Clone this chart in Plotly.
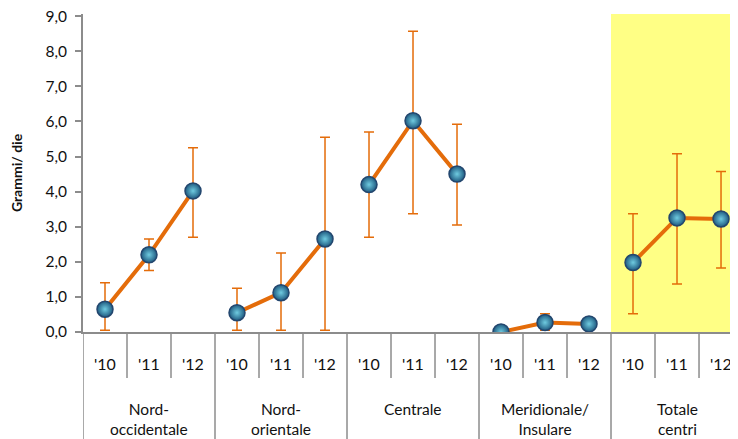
import plotly.graph_objects as go

groups = ["Nord-<br>occidentale", "Nord-<br>orientale", "Centrale", "Meridionale/<br>Insulare", "Totale<br>centri"]
years = ["'10", "'11", "'12"]

values = [0.65, 2.2, 4.02, 0.55, 1.12, 2.65, 4.2, 6.02, 4.5, 0.0, 0.27, 0.23, 1.98, 3.25, 3.22]
low    = [0.05, 1.75, 2.7, 0.05, 0.05, 0.05, 2.7, 3.37, 3.05, 0.0, 0.05, 0.1, 0.52, 1.37, 1.82]
high   = [1.4, 2.65, 5.25, 1.25, 2.25, 5.55, 5.7, 8.57, 5.92, 0.0, 0.52, 0.35, 3.37, 5.08, 4.57]

n_per = len(years)
ORANGE = "#E46C0A"
GRID = "#8C8C8C"
FONT = "Lato"

fig = go.Figure()

for g in range(len(groups)):
    idx = list(range(g * n_per, (g + 1) * n_per))
    fig.add_trace(go.Scatter(
        x=idx,
        y=[values[i] for i in idx],
        mode="lines+markers",
        line=dict(color=ORANGE, width=4),
        marker=dict(size=16, color="#1E5A80", symbol="circle",
                    gradient=dict(type="radial", color="#6FCBE0"),
                    line=dict(color="#23466E", width=1.5)),
        error_y=dict(type="data", symmetric=False,
                     array=[high[i] - values[i] for i in idx],
                     arrayminus=[values[i] - low[i] for i in idx],
                     color=ORANGE, thickness=1.5, width=5),
        showlegend=False,
        hoverinfo="skip",
    ))

n = len(values)
shapes = []
last = len(groups) - 1
YMAX = 9.06
shapes.append(dict(type="rect", xref="x", yref="y", x0=last * n_per - 0.5, x1=n - 0.5,
                   y0=0, y1=YMAX, fillcolor="#FFFF85", line=dict(width=0), layer="below"))

# page offset (body margin) is 8px; plot area spans page y 14..332
plot_h = 318.0
def py(pix):
    return (332 - pix) / plot_h

for k in range(n + 1):
    xk = k - 0.5
    if k % n_per == 0:
        shapes.append(dict(type="line", xref="x", yref="paper", x0=xk, x1=xk,
                           y0=0, y1=py(445), line=dict(color=GRID, width=1.5)))
    else:
        shapes.append(dict(type="line", xref="x", yref="paper", x0=xk, x1=xk,
                           y0=0, y1=py(378), line=dict(color=GRID, width=1.5)))

annotations = []
for i in range(n):
    annotations.append(dict(x=i, y=py(363), xref="x", yref="paper", text=years[i % n_per],
                            showarrow=False, font=dict(family=FONT, size=16, color="#111"),
                            xanchor="center", yanchor="middle"))
for g, name in enumerate(groups):
    annotations.append(dict(x=g * n_per + 1, y=py(398), xref="x", yref="paper", text=name,
                            showarrow=False, font=dict(family=FONT, size=15.5, color="#111"),
                            xanchor="center", yanchor="top"))

fig.update_layout(
    width=730, height=431,
    margin=dict(l=75, r=0, t=6, b=107, autoexpand=False),
    plot_bgcolor="white", paper_bgcolor="white",
    separators=",.",
    shapes=shapes,
    annotations=annotations,
    font=dict(family=FONT, size=15, color="#111"),
    xaxis=dict(range=[-0.5, 14.386], showgrid=False, zeroline=False, showticklabels=False,
               showline=True, linecolor=GRID, linewidth=2, ticks="", automargin=False),
    yaxis=dict(range=[0, YMAX], tickvals=[0, 1, 2, 3, 4, 5, 6, 7, 8, 9], tickformat=".1f",
               showgrid=False, zeroline=False, showline=True, linecolor=GRID, linewidth=2,
               ticks="outside", ticklen=6, tickcolor=GRID, tickwidth=1.5, automargin=False,
               ticklabelstandoff=5, ticklabeloverflow="allow",
               tickfont=dict(family=FONT, size=15.5, color="#111"),
               title=dict(text="<b>Grammi/ die</b>", font=dict(family=FONT, size=14, color="#111"),
                          standoff=20)),
)

fig.write_html("out.html")
